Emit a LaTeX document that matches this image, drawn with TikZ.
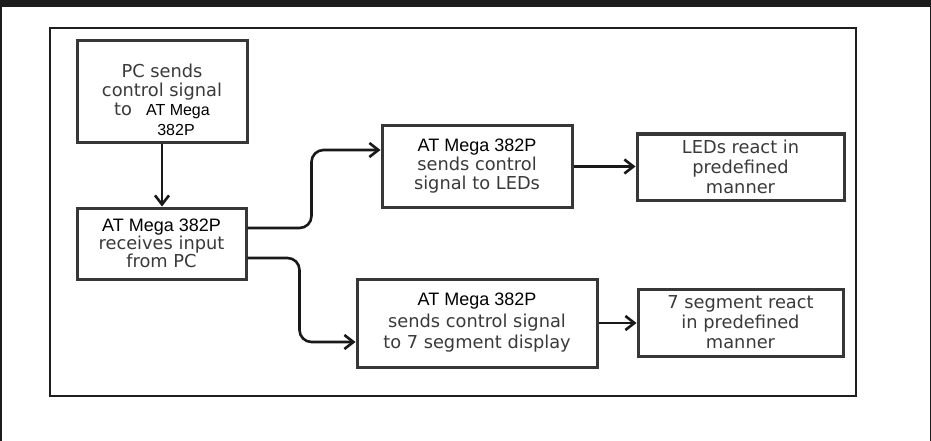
\documentclass[tikz,border=0pt]{standalone}
\usepackage{fontspec}
\setmainfont{Liberation Sans}
\newfontfamily\greyfont{DejaVu Sans}
\newfontfamily\chipfont{Liberation Sans}
\usetikzlibrary{arrows.meta}
\definecolor{darkband}{RGB}{28,28,28}
\definecolor{boxline}{RGB}{55,55,55}
\definecolor{textgrey}{RGB}{58,58,58}
\newcommand\atmega[1]{{\chipfont\fontsize{18}{20}\selectfont\color{black}#1}}
\newcommand\smallmega[1]{{\chipfont\fontsize{16}{19}\selectfont\color{black}#1}}

\begin{document}
\begin{tikzpicture}[x=1pt,y=-1pt,
  box/.style={draw=boxline, line width=3pt, inner sep=0pt, align=center, text=textgrey, font=\greyfont\fontsize{17.8}{20}\selectfont},
  boxtext/.style={inner sep=0pt, align=center, text=textgrey, font=\greyfont\fontsize{17.8}{19.3}\selectfont},
  conn/.style={draw=black!90, line width=2.6pt, rounded corners=12pt, -{Straight Barb[length=9pt,width=14pt]}}]
\useasboundingbox (0,0) rectangle (931,441);
\fill[white] (0,0) rectangle (931,441);
\fill[darkband] (0,0) rectangle (931,7);
\fill[darkband] (0,0) rectangle (2,441);
\fill[darkband] (930,0) rectangle (931,441);
\draw[line width=2pt, draw=black!88] (50,28) rectangle (856,396);
\node[box, minimum width=170pt, minimum height=101pt] (pc) at (162,91.5) {};
\node[boxtext] (pctext) at (pc.center) [yshift=-8pt] {PC sends\\control signal\\to\hspace{14pt}\smallmega{AT Mega}\\\hspace{28pt}\smallmega{382P}};
\node[box, minimum width=169pt, minimum height=71pt, font=\greyfont\fontsize{17.8}{18}\selectfont] (mcu) at (161.5,243.5) {\atmega{AT Mega 382P}\\receives input\\from PC};
\node[box, minimum width=190pt, minimum height=81pt, font=\greyfont\fontsize{17.8}{19}\selectfont] (ledctl) at (477,166.5) {\atmega{AT Mega 382P}\\sends control\\signal to LEDs};
\node[box, minimum width=207pt, minimum height=66pt] (leds) at (740.5,167) {LEDs react in\\predefined\\manner};
\node[box, minimum width=240pt, minimum height=88pt, font=\greyfont\fontsize{17.8}{21.5}\selectfont] (segctl) at (477,323) {\atmega{AT Mega 382P}\\sends control signal\\to 7 segment display};
\node[box, minimum width=205pt, minimum height=67pt] (seg) at (740.5,322.5) {7 segment react\\in predefined\\manner};
\draw[conn] (pc.south) -- (pc.south |- mcu.north);
\draw[conn] ([yshift=15.5pt]mcu.east) -| ([xshift=-69pt,yshift=16.5pt]ledctl.west) -- ([yshift=16.5pt]ledctl.west);
\draw[conn] ([yshift=-14.5pt]mcu.east) -| ([xshift=-56pt,yshift=-19pt]segctl.west) -- ([yshift=-19pt]segctl.west);
\draw[conn] (ledctl.east) -- (ledctl.east -| leds.west);
\draw[conn] (segctl.east) -- (segctl.east -| seg.west);
\end{tikzpicture}
\end{document}
